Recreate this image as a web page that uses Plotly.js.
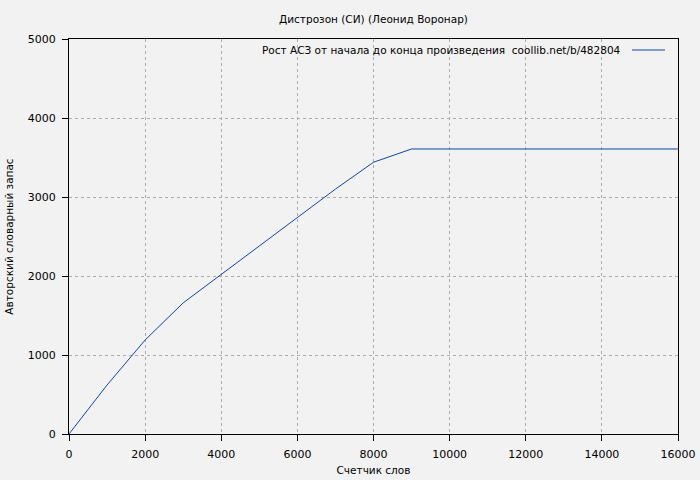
<!DOCTYPE html>
<html>
<head>
<meta charset="utf-8">
<script src="https://cdn.plot.ly/plotly-3.0.1.min.js"></script>
<style>html,body{margin:0;padding:0;background:#f2f2f2;}#chart{width:700px;height:480px;}</style>
</head>
<body>
<div id="chart"></div>
<script>
// Data
const wordCount = [0, 1000, 2000, 3000, 4000, 5000, 6000, 7000, 8000, 9000, 10000, 11000, 12000, 13000, 14000, 15000, 16000];
const vocabulary = [0, 620, 1190, 1660, 2020, 2380, 2750, 3100, 3440, 3608, 3608, 3608, 3608, 3608, 3608, 3608, 3608];
const xTicks = [0, 2000, 4000, 6000, 8000, 10000, 12000, 14000, 16000];
const yTicks = [0, 1000, 2000, 3000, 4000, 5000];
const chartTitle = 'Дистрозон (СИ) (Леонид Воронар)';
const seriesName = 'Рост АСЗ от начала до конца произведения  coollib.net/b/482804';
const xTitle = 'Счетчик слов';
const yTitle = 'Авторский словарный запас';

const font = {family: 'DejaVu Sans, sans-serif', size: 11, color: '#000'};
const textFont = {family: 'DejaVu Sans, sans-serif', size: 10.5, color: '#000'};
const lineColor = '#0a48a8';

const trace = {
  x: wordCount, y: vocabulary, type: 'scatter', mode: 'lines',
  line: {color: lineColor, width: 1}, name: seriesName, showlegend: false,
  hoverinfo: 'skip'
};

const axisCommon = {
  showline: true, mirror: true, linecolor: '#000', linewidth: 1,
  ticks: 'outside', ticklen: 6, tickcolor: '#000', tickwidth: 1,
  showgrid: true, gridcolor: '#ababab', gridwidth: 1, griddash: 'dot',
  zeroline: false, tickfont: font, fixedrange: true
};

const layout = {
  width: 700, height: 480,
  paper_bgcolor: '#f2f2f2', plot_bgcolor: '#f2f2f2',
  font: font,
  margin: {l: 69, r: 22, t: 39, b: 46},
  title: {text: chartTitle, font: textFont, x: 0.5, xref: 'paper', y: 1 - 19/480, yanchor: 'middle'},
  xaxis: Object.assign({}, axisCommon, {
    range: [0, 16000], tickvals: xTicks, ticktext: xTicks.map(String),
    ticklabelstandoff: 4,
    title: {text: xTitle, font: textFont, standoff: 6}
  }),
  yaxis: Object.assign({}, axisCommon, {
    range: [0, 5000], tickvals: yTicks, ticktext: yTicks.map(String),
    ticklabelstandoff: 4,
    title: {text: yTitle, font: textFont, standoff: 12}
  }),
  shapes: [
    {type: 'rect', xref: 'x', yref: 'paper', x0: 4900, x1: 16000, y0: 1 - 19/395, y1: 1,
     fillcolor: '#f2f2f2', line: {width: 0}, layer: 'between'},
    {type: 'line', xref: 'paper', yref: 'paper', x0: (632-69)/609, x1: (665-69)/609,
     y0: 1 - 11/395, y1: 1 - 11/395, line: {color: lineColor, width: 1}}
  ],
  annotations: [
    {text: seriesName, xref: 'paper', yref: 'paper', x: (623-69)/609, y: 1 - 11/395,
     xanchor: 'right', yanchor: 'middle', showarrow: false, font: textFont}
  ]
};

Plotly.newPlot('chart', [trace], layout, {displayModeBar: false, staticPlot: true});
</script>
</body>
</html>
